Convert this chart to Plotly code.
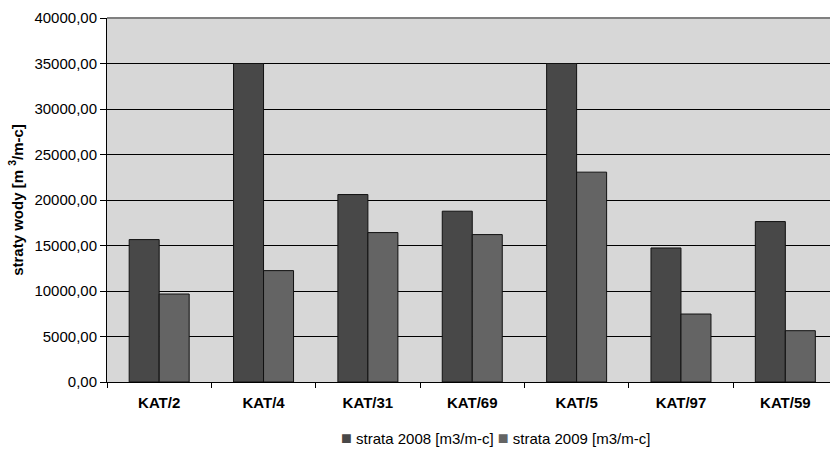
import plotly.graph_objects as go

# Water loss per district meter area, 2008 vs 2009
categories = ["KAT/2", "KAT/4", "KAT/31", "KAT/69", "KAT/5", "KAT/97", "KAT/59"]
strata_2008 = [15650, 35000, 20600, 18770, 35000, 14730, 17630]
strata_2009 = [9670, 12240, 16420, 16200, 23060, 7470, 5640]
series_names = ["strata 2008 [m3/m-c]", "strata 2009 [m3/m-c]"]
series_colors = ["#484848", "#646464"]
y_ticks = [0, 5000, 10000, 15000, 20000, 25000, 30000, 35000, 40000]

FONT = "Liberation Sans, Arial, sans-serif"

fig = go.Figure()
for name, values, color in zip(series_names, [strata_2008, strata_2009], series_colors):
    fig.add_trace(go.Bar(
        x=categories, y=values, name=name,
        marker=dict(color=color, line=dict(color="#111111", width=1)),
    ))

# Compact legend line: small square swatch followed by the series name
legend_text = " ".join(
    f"<span style='color:{c}; font-size:18px'>■</span> {n}"
    for n, c in zip(series_names, series_colors)
)

fig.update_layout(
    width=830, height=449,
    margin=dict(l=107, r=0, t=18, b=67),
    paper_bgcolor="white",
    plot_bgcolor="#d7d7d7",
    barmode="group",
    bargap=0.425,
    bargroupgap=0,
    separators=", ",
    font=dict(family=FONT, size=15, color="black"),
    showlegend=False,
    annotations=[dict(
        text=legend_text,
        xref="paper", yref="paper",
        x=0.537, y=-0.154, xanchor="center", yanchor="middle",
        showarrow=False,
        font=dict(family=FONT, size=15, color="black"),
    )],
    shapes=[dict(
        type="line", xref="paper", yref="paper",
        x0=0, x1=1, y0=1, y1=1,
        line=dict(color="#808080", width=2),
    )],
)

fig.update_xaxes(
    type="category",
    range=[-0.5, 6.428],
    showline=True, linecolor="black", linewidth=1,
    ticks="outside", tickson="boundaries", ticklen=5, tickcolor="black",
    tickfont=dict(family=FONT, size=15, weight="bold"),
    ticklabelstandoff=7,
    showgrid=False,
)

fig.update_yaxes(
    range=[0, 40000],
    tickvals=y_ticks,
    tickformat=".2f",
    showline=True, linecolor="black", linewidth=1,
    ticks="outside", ticklen=6, tickcolor="black",
    tickfont=dict(family=FONT, size=15),
    showgrid=True, gridcolor="black", gridwidth=1,
    zeroline=False,
    title=dict(
        text="<b>straty wody [m <sup>3</sup>/m-c]</b>",
        font=dict(family=FONT, size=15),
        standoff=7,
    ),
)

fig.write_html("out.html")
